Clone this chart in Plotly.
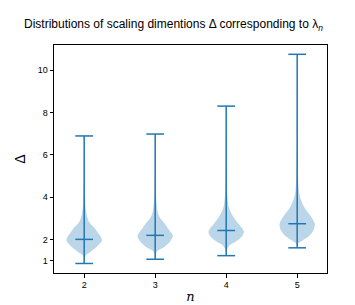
import plotly.graph_objects as go

# ---- data ----
n_values = [2, 3, 4, 5]
delta_min = [0.86, 1.06, 1.23, 1.60]
delta_max = [6.89, 6.98, 8.30, 10.75]
delta_mid = [2.00, 2.19, 2.42, 2.74]

# density profiles (Delta level, relative half-width)
levels_2 = [0.86, 1.10, 1.26, 1.42, 1.65, 1.95, 2.10, 2.26, 2.57, 2.80, 3.05, 3.50, 4.00, 5.00, 6.89]
width_2 = [0.0, 0.02, 0.10, 0.37, 0.71, 1.00, 0.95, 0.82, 0.55, 0.30, 0.17, 0.08, 0.04, 0.015, 0.0]
levels_3 = [1.06, 1.30, 1.45, 1.60, 1.85, 2.16, 2.30, 2.45, 2.73, 2.95, 3.20, 3.60, 4.20, 5.20, 6.98]
width_3 = [0.0, 0.03, 0.12, 0.45, 0.80, 1.00, 0.92, 0.78, 0.55, 0.33, 0.17, 0.09, 0.04, 0.015, 0.0]
levels_4 = [1.23, 1.50, 1.72, 1.90, 2.10, 2.35, 2.55, 2.73, 3.04, 3.35, 3.65, 4.20, 5.00, 6.00, 8.30]
width_4 = [0.0, 0.04, 0.20, 0.55, 0.85, 1.00, 0.88, 0.70, 0.42, 0.22, 0.12, 0.06, 0.03, 0.012, 0.0]
levels_5 = [1.60, 1.80, 1.95, 2.15, 2.40, 2.70, 2.95, 3.19, 3.45, 3.65, 4.10, 4.60, 5.50, 7.00, 10.75]
width_5 = [0.0, 0.05, 0.30, 0.65, 0.90, 1.00, 0.88, 0.69, 0.45, 0.32, 0.13, 0.07, 0.035, 0.015, 0.0]

profiles = [(levels_2, width_2), (levels_3, width_3), (levels_4, width_4), (levels_5, width_5)]

x_ticks = [2, 3, 4, 5]
y_ticks = [1, 2, 4, 6, 8, 10]

# ---- style ----
C0 = "#1f77b4"
FILL = "rgba(31,119,180,0.3)"
BODY_HALF = 0.25
CAP_HALF = 0.125
FONT = "Liberation Sans"

fig = go.Figure()

for n, (lv, wd) in zip(n_values, profiles):
    xs = [n + BODY_HALF * w for w in wd] + [n - BODY_HALF * w for w in reversed(wd)]
    ys = list(lv) + list(reversed(lv))
    fig.add_trace(go.Scatter(x=xs, y=ys, mode="lines", fill="toself", fillcolor=FILL,
                             line=dict(width=0, color=FILL, shape="spline", smoothing=0.8),
                             hoverinfo="skip", showlegend=False))

lx, ly = [], []
for n, lo, hi, md in zip(n_values, delta_min, delta_max, delta_mid):
    lx += [n, n, None]
    ly += [lo, hi, None]
    for v in (lo, hi, md):
        lx += [n - CAP_HALF, n + CAP_HALF, None]
        ly += [v, v, None]
fig.add_trace(go.Scatter(x=lx, y=ly, mode="lines", line=dict(color=C0, width=1.5),
                         hoverinfo="skip", showlegend=False))

axis_common = dict(showgrid=False, zeroline=False, showline=True, linecolor="black",
                   linewidth=1, mirror=True, ticks="outside", ticklen=3.5, tickwidth=0.8,
                   tickcolor="black", tickfont=dict(family=FONT, size=9, color="black"))

fig.update_layout(
    width=355, height=305,
    margin=dict(l=44, r=36, t=37, b=35),
    paper_bgcolor="white", plot_bgcolor="white",
    title=dict(text="Distributions of scaling dimentions Δ corresponding to λ<sub><i>n</i></sub>",
               xref="container", x=0.466, xanchor="center", y=0.947, yanchor="middle",
               font=dict(family=FONT, size=12, color="black")),
    xaxis=dict(range=[1.575, 5.42], tickvals=x_ticks, ticktext=[str(v) for v in x_ticks],
               title=dict(text="<i>n</i>", font=dict(family="DejaVu Serif", size=13, color="black"),
                          standoff=2),
               **axis_common),
    yaxis=dict(range=[0.41, 11.19], tickvals=y_ticks, ticktext=[str(v) for v in y_ticks],
               title=dict(text="Δ", font=dict(family=FONT, size=14, color="black"), standoff=8),
               **axis_common),
)

fig.write_html("out.html")
